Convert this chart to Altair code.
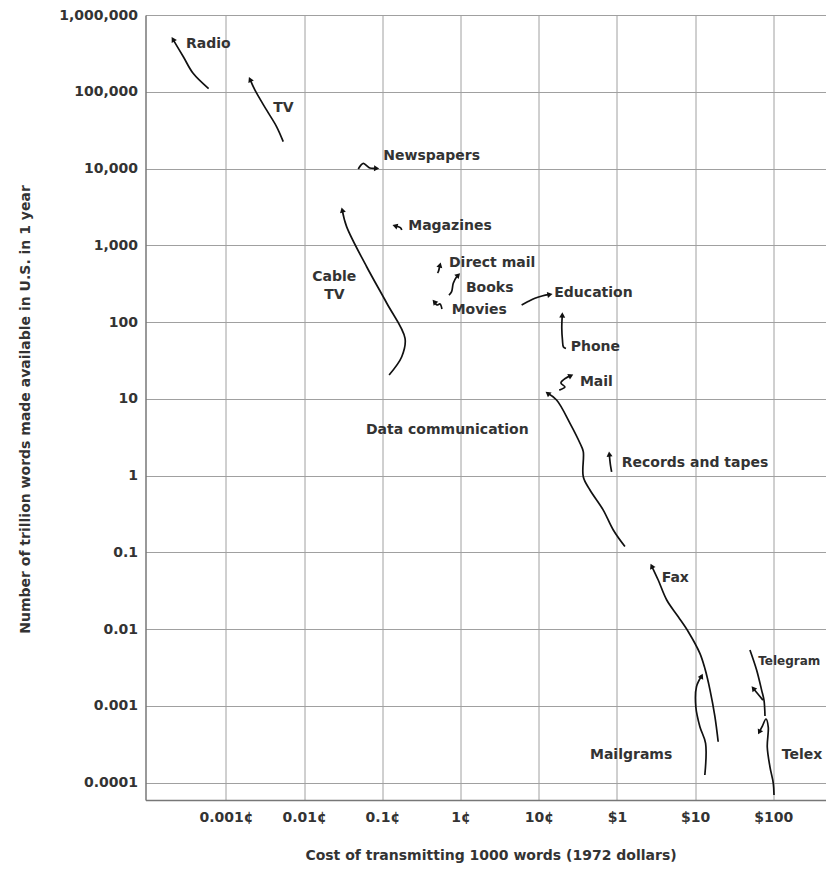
import math
import altair as alt
import pandas as pd

# ---------------- data (cost: 1972 dollars per 1000 words; words: trillions / year) ----
RADIO_COST = [6.0e-6, 3.8e-6, 2.85e-6, 2.1e-6]
RADIO_WORDS = [110000, 174000, 286000, 482000]

TV_COST = [5.4e-5, 4.45e-5, 3.3e-5, 2.35e-5, 2.03e-5]
TV_WORDS = [22400, 35000, 58000, 105000, 145000]

NEWS_COST = [4.92e-4, 5.32e-4, 5.73e-4, 6.26e-4, 6.93e-4, 8.45e-4]
NEWS_WORDS = [9860, 11100, 11700, 10960, 10160, 10070]

CABLE_COST = [1.22e-3, 1.77e-3, 1.95e-3, 1.14e-3, 6.30e-4, 3.49e-4, 3.07e-4]
CABLE_WORDS = [20.5, 35.4, 61.5, 176, 526, 1750, 2880]

MAG_COST = [1.77e-3, 1.70e-3, 1.45e-3]
MAG_WORDS = [1580, 1700, 1790]

DIRECT_COST = [5.07e-3, 5.19e-3, 5.46e-3]
DIRECT_WORDS = [436, 453, 555]

BOOKS_COST = [7.11e-3, 7.69e-3, 8.07e-3, 8.91e-3, 9.35e-3]
BOOKS_WORDS = [225, 249, 320, 390, 410]

MOVIES_COST = [5.78e-3, 5.46e-3, 4.99e-3, 4.61e-3]
MOVIES_WORDS = [148, 172, 167, 184]

EDU_COST = [0.0604, 0.0728, 0.0893, 0.110, 0.139]
EDU_WORDS = [167, 185, 204, 219, 229]

PHONE_COST = [0.223, 0.207, 0.201, 0.197, 0.200]
PHONE_WORDS = [45.3, 47.3, 58.5, 83.7, 124]

MAIL_COST = [0.183, 0.216, 0.192, 0.223, 0.258]
MAIL_WORDS = [13.0, 14.3, 16.1, 18.7, 20.1]

DATA_COST = [1.265, 0.898, 0.668, 0.452, 0.371, 0.371, 0.337, 0.251, 0.169, 0.130]
DATA_WORDS = [0.119, 0.196, 0.356, 0.650, 0.968, 2.05, 2.64, 4.80, 9.66, 11.8]

REC_COST = [0.855, 0.826, 0.798]
REC_WORDS = [1.12, 1.37, 1.91]

FAX_COST = [19.7, 17.9, 15.5, 13.3, 11.5, 8.17, 6.08, 4.33, 3.37, 2.78]
FAX_WORDS = [3.42e-4, 7.24e-4, 1.61e-3, 3.09e-3, 4.84e-3, 9.27e-3, 0.0145, 0.0240, 0.0437, 0.0665]

MAILGRAM_COST = [13.3, 13.6, 11.5, 10.2, 10.4, 12.1]
MAILGRAM_WORDS = [1.26e-4, 3.26e-4, 5.36e-4, 9.77e-4, 1.78e-3, 2.45e-3]

TELEGRAM_COST = [50.2, 61.1, 70.8, 75.9, 78.2]
TELEGRAM_WORDS = [5.36e-3, 2.94e-3, 1.61e-3, 1.19e-3, 7.40e-4]

TELEGRAM_HOOK_COST = [73.6, 63.5, 55.3]
TELEGRAM_HOOK_WORDS = [1.19e-3, 1.43e-3, 1.70e-3]

TELEX_COST = [102, 99.8, 90.6, 83.6, 86.1, 80.4, 72.4, 66.1]
TELEX_WORDS = [6.92e-5, 9.9e-5, 1.60e-4, 2.92e-4, 5.31e-4, 6.76e-4, 5.47e-4, 4.57e-4]

# (name, costs, words, ends with an arrow head)
SERIES = [
    ("Radio", RADIO_COST, RADIO_WORDS, True),
    ("TV", TV_COST, TV_WORDS, True),
    ("Newspapers", NEWS_COST, NEWS_WORDS, True),
    ("Cable TV", CABLE_COST, CABLE_WORDS, True),
    ("Magazines", MAG_COST, MAG_WORDS, True),
    ("Direct mail", DIRECT_COST, DIRECT_WORDS, True),
    ("Books", BOOKS_COST, BOOKS_WORDS, True),
    ("Movies", MOVIES_COST, MOVIES_WORDS, True),
    ("Education", EDU_COST, EDU_WORDS, True),
    ("Phone", PHONE_COST, PHONE_WORDS, True),
    ("Mail", MAIL_COST, MAIL_WORDS, True),
    ("Data communication", DATA_COST, DATA_WORDS, True),
    ("Records and tapes", REC_COST, REC_WORDS, True),
    ("Fax", FAX_COST, FAX_WORDS, True),
    ("Mailgrams", MAILGRAM_COST, MAILGRAM_WORDS, True),
    ("Telegram", TELEGRAM_COST, TELEGRAM_WORDS, False),
    ("Telegram hook", TELEGRAM_HOOK_COST, TELEGRAM_HOOK_WORDS, True),
    ("Telex", TELEX_COST, TELEX_WORDS, True),
]

LABEL_TEXT = ["Radio", "TV", "Newspapers", "Magazines", "Direct mail", "Books", "Movies",
              "Education", "Phone", "Mail", "Data communication", "Records and tapes",
              "Fax", "Mailgrams", "Telex"]
LABEL_COST = [3.08e-6, 4.03e-5, 1.03e-3, 2.14e-3, 7.11e-3, 0.01172, 7.69e-3,
              0.158, 0.256, 0.336, 6.17e-4, 1.15,
              3.73, 0.452, 128]
LABEL_WORDS = [415000, 61000, 14700, 1790, 597, 275, 142,
               239, 47.3, 16.8, 3.93, 1.47,
               0.0459, 2.30e-4, 2.30e-4]

# label at the right edge, set a little smaller so that it stays inside the page
EDGE_LABEL_TEXT = ["Telegram"]
EDGE_LABEL_COST = [64.0]
EDGE_LABEL_WORDS = [3.85e-3]

CABLE_LABEL_TEXT = ["Cable", "TV"]
CABLE_LABEL_COST = [2.43e-4, 2.43e-4]
CABLE_LABEL_WORDS = [390, 225]

X_TICKS = [1e-5, 1e-4, 1e-3, 1e-2, 1e-1, 1, 10, 100]
X_TICK_LABELS = ["0.001¢", "0.01¢", "0.1¢", "1¢", "10¢", "$1", "$10", "$100"]
Y_TICKS = [1e-4, 1e-3, 1e-2, 1e-1, 1, 10, 100, 1000, 10000, 100000, 1000000]
Y_TICK_LABELS = ["0.0001", "0.001", "0.01", "0.1", "1", "10", "100", "1,000",
                 "10,000", "100,000", "1,000,000"]

X_TITLE = "Cost of transmitting 1000 words (1972 dollars)"
Y_TITLE = "Number of trillion words made available in U.S. in 1 year"

# ---------------- layout ------------------------------------------------------------
FONT = "DejaVu Sans"
FS = 14
W, H = 680, 785
XMIN, XMAX = 10 ** -6.029, 10 ** 2.667
YMIN, YMAX = 10 ** -4.225, 10 ** 6.0
PX_X = W / (math.log10(XMAX) - math.log10(XMIN))
PX_Y = H / (math.log10(YMAX) - math.log10(YMIN))

rows, heads = [], []
for name, xs, ys, arrow in SERIES:
    for i, (c, w) in enumerate(zip(xs, ys)):
        rows.append({"series": name, "order": i, "cost": c, "words": w})
    if arrow:
        dx = (math.log10(xs[-1]) - math.log10(xs[-2])) * PX_X
        dy = (math.log10(ys[-1]) - math.log10(ys[-2])) * PX_Y
        ang = math.degrees(math.atan2(dx, dy)) % 360
        heads.append({"series": name, "cost": xs[-1], "words": ys[-1], "angle": ang})

lines_df = pd.DataFrame(rows)
heads_df = pd.DataFrame(heads)
labels_df = pd.DataFrame({"text": LABEL_TEXT, "cost": LABEL_COST, "words": LABEL_WORDS})
edge_df = pd.DataFrame({"text": EDGE_LABEL_TEXT, "cost": EDGE_LABEL_COST,
                        "words": EDGE_LABEL_WORDS})
cable_df = pd.DataFrame({"text": CABLE_LABEL_TEXT, "cost": CABLE_LABEL_COST,
                         "words": CABLE_LABEL_WORDS})

x_expr = "[" + ",".join("'%s'" % s for s in X_TICK_LABELS) + "][round(log(datum.value)/LN10)+5]"
y_expr = "[" + ",".join("'%s'" % s for s in Y_TICK_LABELS) + "][round(log(datum.value)/LN10)+4]"

xscale = alt.Scale(type="log", domain=[XMIN, XMAX], nice=False)
yscale = alt.Scale(type="log", domain=[YMIN, YMAX], nice=False)
x_axis = alt.Axis(values=X_TICKS, labelExpr=x_expr, title=X_TITLE, grid=True, ticks=False,
                  labelPadding=10, labelFontSize=FS, titleX=345, titleY=55,
                  titleBaseline="middle", titleAlign="center")
y_axis = alt.Axis(values=Y_TICKS, labelExpr=y_expr, title=Y_TITLE, grid=True, ticks=False,
                  labelPadding=8, labelFontSize=FS, titleX=-120, titleY=394,
                  titleAngle=270, titleBaseline="middle", titleAlign="center")


def X():
    return alt.X("cost:Q", scale=xscale, axis=x_axis)


def Y():
    return alt.Y("words:Q", scale=yscale, axis=y_axis)


lines = alt.Chart(lines_df).mark_line(
    interpolate="catmull-rom", color="#111", strokeWidth=1.7, clip=True
).encode(x=X(), y=Y(), detail="series:N", order="order:Q")

arrows = alt.Chart(heads_df).mark_point(
    shape="triangle-up", filled=True, color="#111", size=36, opacity=1
).encode(x=X(), y=Y(), angle=alt.Angle("angle:Q", scale=None))

labels = alt.Chart(labels_df).mark_text(
    align="left", baseline="middle", font=FONT, fontSize=FS, fontWeight="bold", color="#333"
).encode(x=X(), y=Y(), text="text:N")

edge_labels = alt.Chart(edge_df).mark_text(
    align="left", baseline="middle", font=FONT, fontSize=12, fontWeight="bold", color="#333"
).encode(x=X(), y=Y(), text="text:N")

cable = alt.Chart(cable_df).mark_text(
    align="center", baseline="middle", font=FONT, fontSize=FS, fontWeight="bold", color="#333"
).encode(x=X(), y=Y(), text="text:N")

chart = alt.layer(lines, arrows, labels, edge_labels, cable).properties(
    width=W, height=H,
    padding={"left": 137.5, "top": 7, "right": 0, "bottom": 63},
    autosize=alt.AutoSizeParams(type="none"),
).configure_view(strokeWidth=0).configure_axis(
    gridColor="#a0a0a0", gridWidth=1, domainColor="#777", domainWidth=1.5,
    labelFont=FONT, titleFont=FONT, labelColor="#333", titleColor="#333",
    labelFontWeight="bold", titleFontSize=FS, titleFontWeight="bold",
)

chart.save("out.html", embed_options={"renderer": "svg", "actions": False})
